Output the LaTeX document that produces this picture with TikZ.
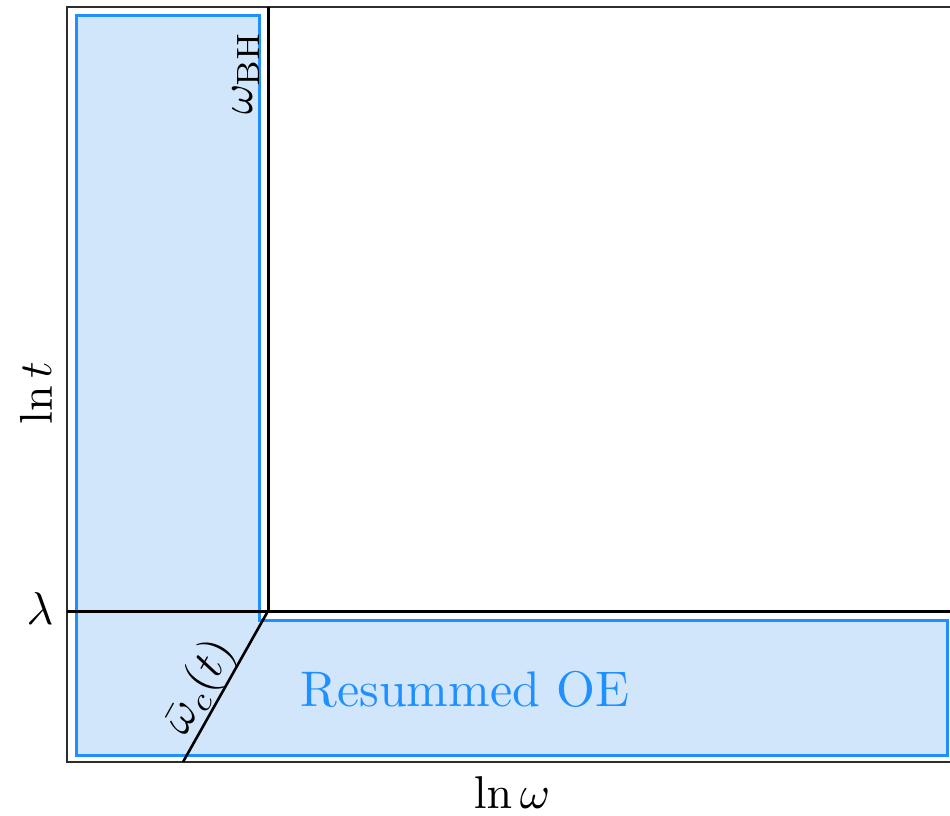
\documentclass[tikz,border=0pt]{standalone}
\begin{document}
\begin{tikzpicture}[x=1pt,y=-1pt,
  regionfill/.style={fill={rgb,255:red,210;green,230;blue,251}, draw={rgb,255:red,30;green,144;blue,255}, line width=3pt},
  frameline/.style={draw={rgb,255:red,45;green,45;blue,45}, line width=2pt},
  boundary/.style={draw=black, line width=3pt},
  lab/.style={inner sep=0pt, scale=4.6},
  bluelab/.style={inner sep=0pt, scale=5.0, text={rgb,255:red,30;green,144;blue,255}}]
\useasboundingbox (0,0) rectangle (950,815);

% corner points of the axes and region boundaries
\coordinate (tl) at (67,7);
\coordinate (bl) at (67,762);
\coordinate (tr) at (950,7);
\coordinate (br) at (950,762);
\coordinate (bhtop) at (268,7);
\coordinate (corner) at (268,611);
\coordinate (lamleft) at (67,611);
\coordinate (lamright) at (950,611);
\coordinate (wcbot) at (183,762);

% L-shaped resummed region
\path[regionfill] (76,15) -- (259,15) -- (259,620) -- (947,620) -- (947,755) -- (76,755) -- cycle;

% axes frame (open to the right)
\draw[frameline] (tr) -- (tl) -- (bl) -- (br);

% region boundaries
\draw[boundary] (bhtop) -- (corner);
\draw[boundary] (lamleft) -- (lamright);
\draw[boundary, line width=2.6pt] (corner) -- (wcbot);

% labels
\node[lab] (lam) at (40,609) {$\lambda$};
\node[lab, rotate=90] (lnt) at (36,393) {$\ln t$};
\node[lab] (lnw) at (512,793) {$\ln\omega$};
\node[lab, rotate=90, anchor=south east] (wbh) at (260,30) {$\omega_{\mathrm{BH}}$};
\node[lab, rotate=61] (wc) at (200,687) {$\bar{\omega}_c(t)$};
\node[bluelab] (oe) at (465,689) {Resummed OE};
\end{tikzpicture}
\end{document}
